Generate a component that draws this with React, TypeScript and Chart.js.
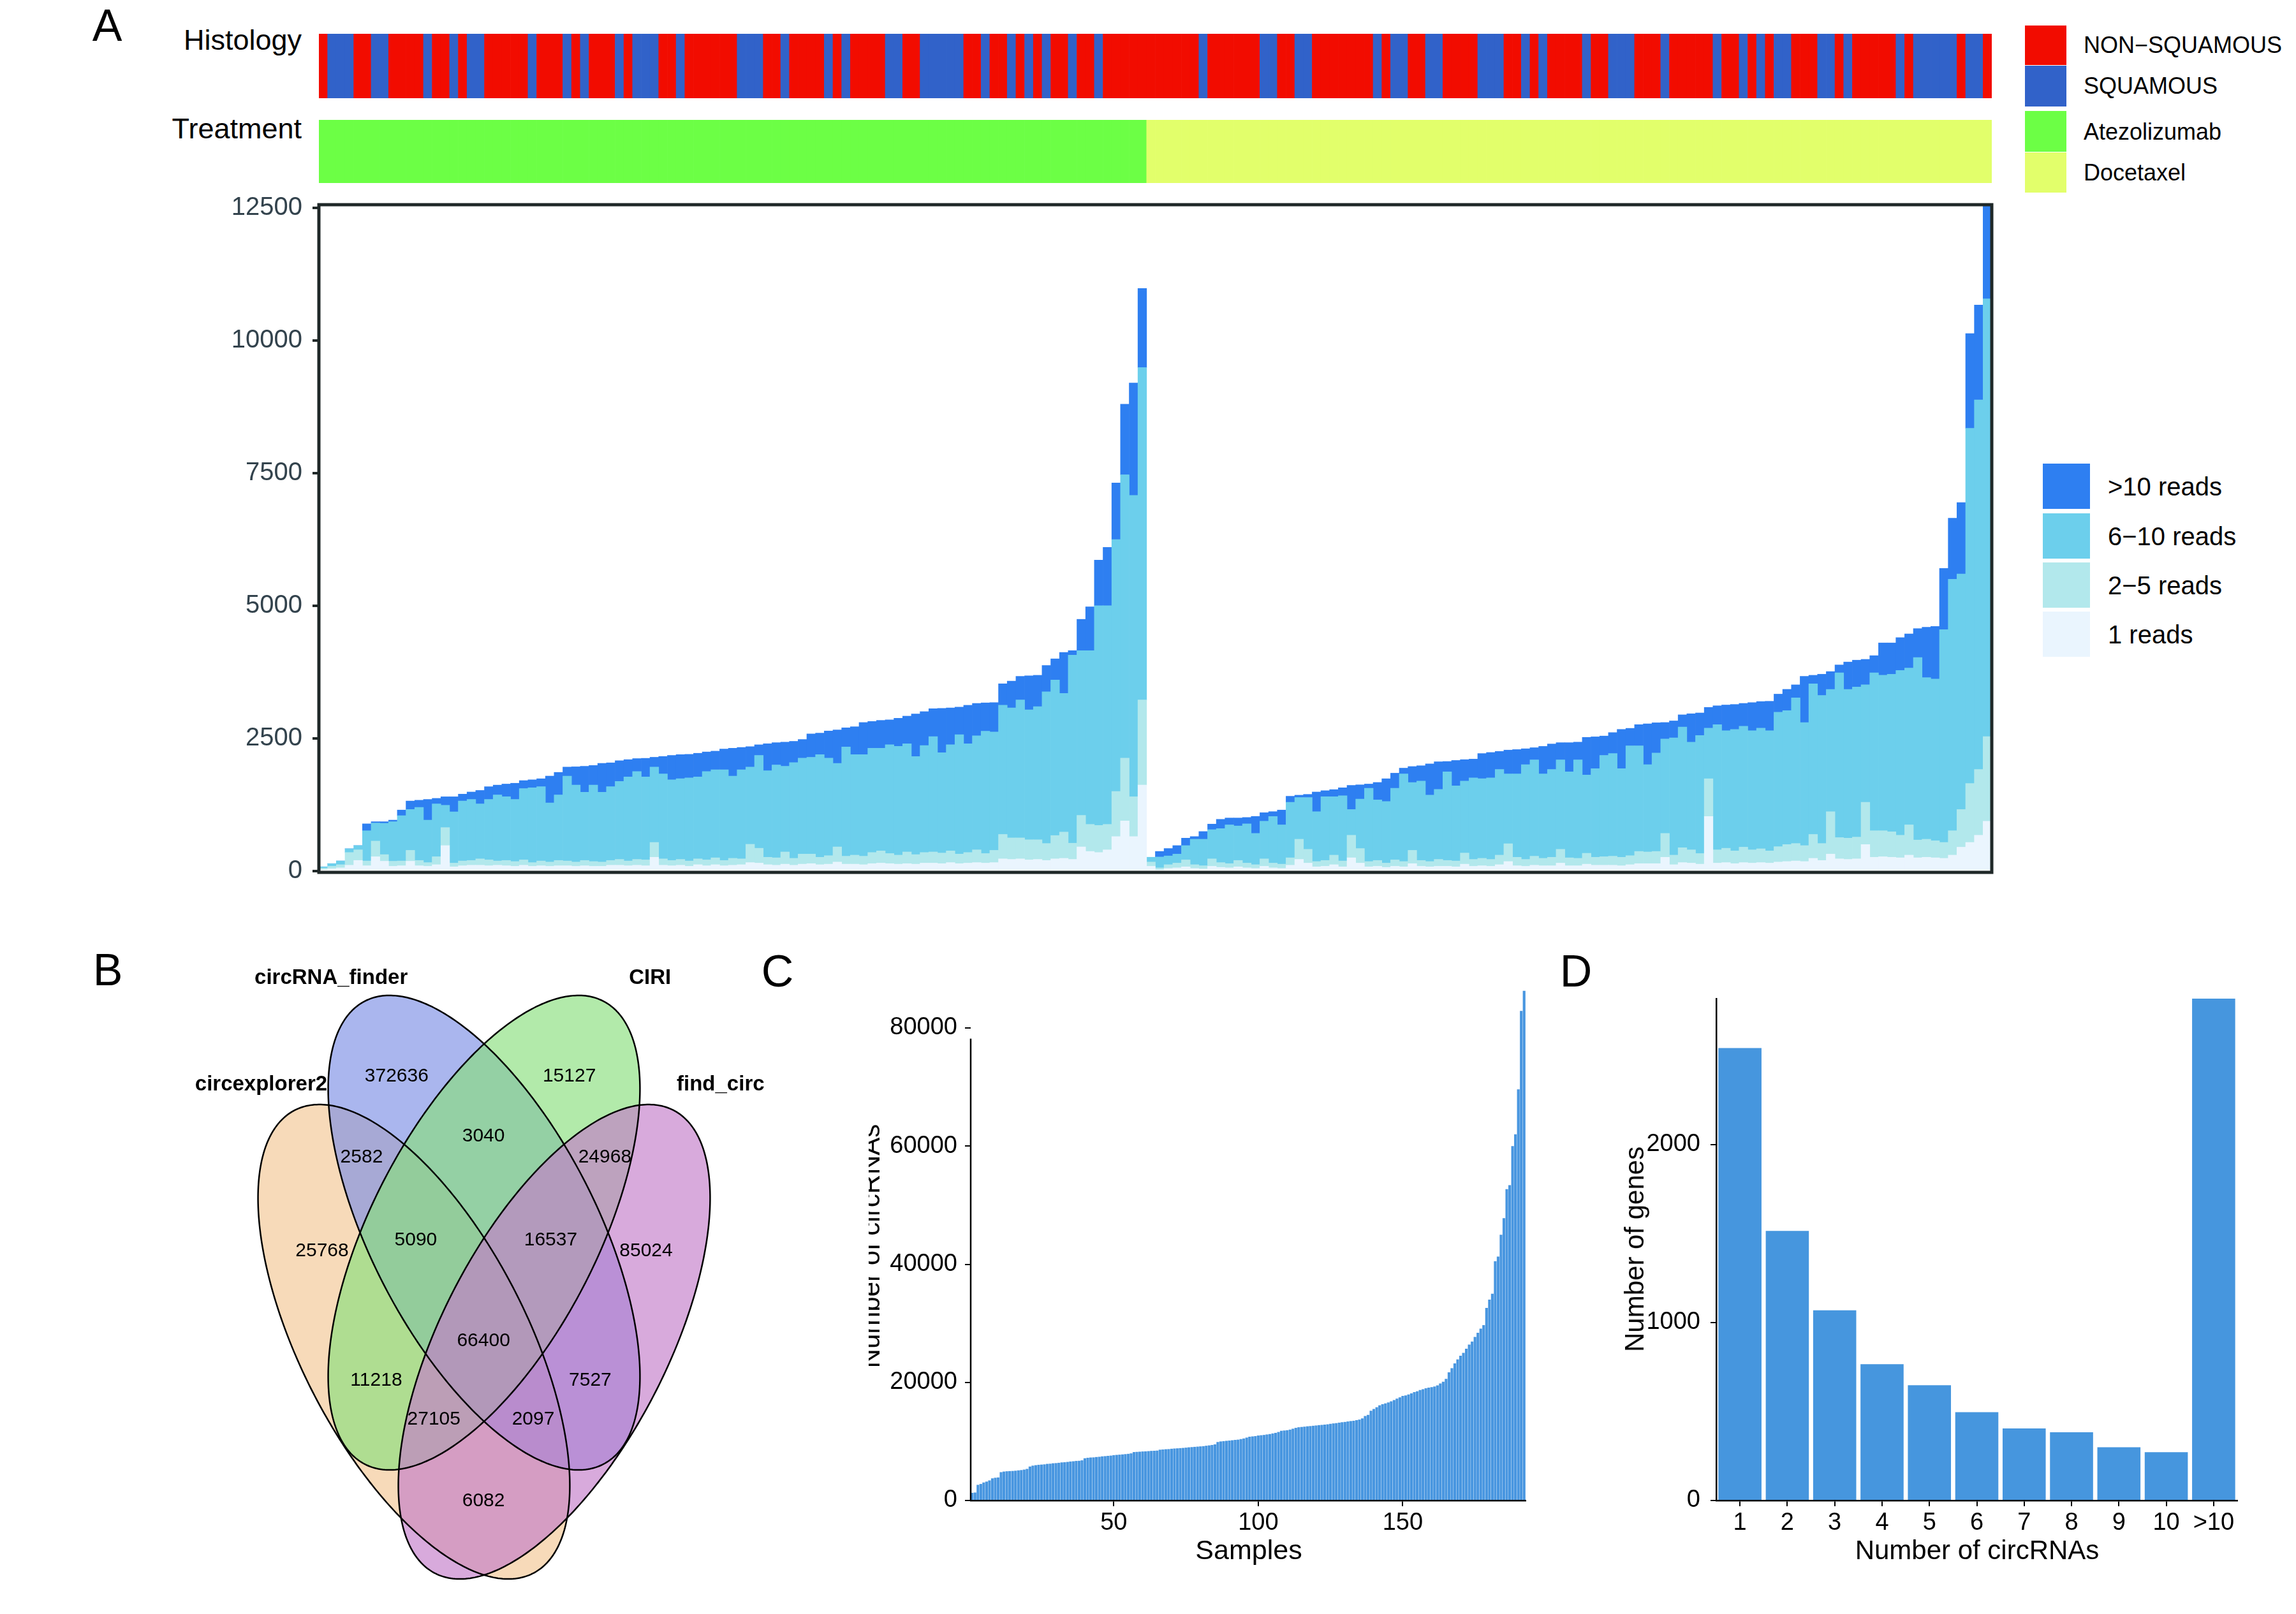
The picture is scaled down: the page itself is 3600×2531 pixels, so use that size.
import React, { useEffect, useRef } from 'react';
import { Chart, registerables } from 'chart.js';

Chart.register(...registerables);

const FONT = '"Liberation Sans", Arial, Helvetica, sans-serif';
Chart.defaults.font.family = FONT;

// ---------------- Panel A data ----------------
const N_SAMPLES = 192;
const SAMPLES = Array.from({ length: N_SAMPLES }, (_, i) => `S${i + 1}`);

// N = NON−SQUAMOUS, S = SQUAMOUS (sample order as in the figure)
const HISTOLOGY_CODES = (
  'NSSSNNSSNN' + 'NNSNNSNSSN' + 'NNNNSNNNSN' + 'SNNNSNSSSN' + 'NSNNNNNNSS' +
  'SNNSNNNNSN' + 'SNNNNSSNNS' + 'SSSSNNSNNS' + 'NSNSNNSNNS' + 'NNNNNNNNNN' +
  'NSNNNNNNSS' + 'NNSSNNNNNN' + 'NSNSSNNSSN' + 'NNNSSSNNSN' + 'SNNNNSNNSS' +
  'SNNNSNNNNN' + 'SNNSNSNSSN' + 'NNSSNSNNNN' + 'NSNSSSSSNS' + 'SN'
).split('');
const HISTOLOGY = HISTOLOGY_CODES.map((c) => (c === 'N' ? 'NON−SQUAMOUS' : 'SQUAMOUS'));
const ATEZOLIZUMAB_COUNT = 95;
const TREATMENT = SAMPLES.map((_, i) => (i < ATEZOLIZUMAB_COUNT ? 'Atezolizumab' : 'Docetaxel'));

const HIST_COLORS: Record<string, string> = { 'NON−SQUAMOUS': '#F20C00', SQUAMOUS: '#3162C9' };
const TREAT_COLORS: Record<string, string> = { Atezolizumab: '#6CFF45', Docetaxel: '#E2FF6B' };

const READ_SERIES = ['1 reads', '2−5 reads', '6−10 reads', '>10 reads'];
const READ_COLORS = ['#EAF5FE', '#B2E8EC', '#6CCFEC', '#2E7FF1'];

const READS_1 = [
  30, 45, 60, 110, 200, 100, 270, 185, 90, 100,
  185, 100, 90, 120, 480, 80, 100, 110, 110, 100,
  110, 100, 90, 110, 90, 100, 90, 100, 100, 90,
  100, 90, 90, 110, 110, 100, 110, 100, 260, 110,
  100, 110, 90, 120, 100, 120, 100, 110, 120, 160,
  150, 120, 110, 130, 110, 130, 140, 120, 130, 170,
  130, 130, 120, 140, 150, 140, 130, 140, 130, 150,
  150, 140, 160, 140, 150, 160, 150, 160, 230, 220,
  230, 210, 220, 200, 230, 240, 220, 455, 370, 350,
  400, 650, 945, 650, 1620,
  90, 25, 50, 60, 80,
  50, 40, 90, 70, 60, 80, 60, 50, 90, 60,
  50, 110, 220, 150, 80, 90, 120, 80, 250, 150,
  80, 90, 70, 90, 80, 140, 90, 80, 90, 90,
  80, 130, 90, 100, 90, 120, 180, 100, 90, 110,
  100, 100, 150, 100, 100, 130, 110, 110, 110, 100,
  120, 140, 140, 140, 260, 120, 160, 150, 130, 1030,
  150, 160, 140, 160, 150, 160, 150, 170, 180, 190,
  180, 240, 200, 320, 230, 220, 230, 500, 260, 270,
  260, 250, 300, 250, 260, 250, 240, 300, 450, 540,
  675, 940,
];

const READS_2_5 = [
  25, 45, 60, 240, 200, 90, 295, 125, 95, 90,
  205, 100, 70, 150, 340, 70, 90, 90, 120, 110,
  80, 100, 90, 100, 70, 90, 80, 100, 90, 80,
  100, 90, 80, 90, 110, 90, 110, 110, 280, 120,
  100, 110, 100, 110, 110, 130, 100, 130, 110, 345,
  280, 140, 140, 230, 130, 190, 180, 140, 160, 285,
  150, 170, 160, 210, 230, 190, 170, 220, 180, 200,
  210, 200, 220, 180, 200, 240, 180, 230, 460, 405,
  395, 380, 370, 320, 440, 495, 305, 595, 510, 510,
  480, 850, 1185, 750, 1605,
  80, 35, 70, 90, 130,
  70, 60, 140, 90, 80, 120, 90, 70, 140, 90,
  80, 140, 380, 260, 100, 110, 180, 110, 425, 275,
  100, 110, 80, 120, 100, 250, 110, 100, 130, 110,
  110, 210, 130, 140, 130, 180, 335, 160, 130, 170,
  140, 160, 260, 150, 140, 205, 150, 160, 170, 160,
  170, 230, 220, 230, 450, 180, 280, 250, 200, 710,
  250, 270, 240, 290, 250, 260, 230, 290, 320, 330,
  300, 450, 320, 800, 400, 400, 410, 795, 500, 490,
  480, 425, 570, 335, 340, 320, 300, 460, 710, 1110,
  1240, 1595,
];

const READS_6_10 = [
  25, 50, 70, 70, 80, 570, 340, 590, 745, 855,
  770, 1000, 800, 995, 420, 965, 1130, 1150, 1035, 1140,
  1245, 1200, 1170, 1345, 1410, 1400, 1115, 1235, 1600, 1450,
  1285, 1440, 1315, 1390, 1470, 1585, 1655, 1565, 1420, 1600,
  1520, 1520, 1565, 1545, 1665, 1660, 1710, 1550, 1680, 1455,
  1750, 1630, 1750, 1615, 1805, 1810, 1825, 1935, 1840, 1575,
  2060, 1895, 1915, 1965, 1935, 2050, 2050, 2040, 1850, 2015,
  2175, 1890, 2000, 2250, 2050, 2150, 2305, 2230, 2435, 2450,
  2600, 2450, 2510, 2860, 2930, 2615, 3545, 3105, 3275, 4140,
  4120, 4750, 5340, 5680, 6265,
  90, 205, 165, 170, 270,
  480, 500, 550, 640, 730, 650, 740, 590, 710, 880,
  740, 1045, 785, 975, 940, 1200, 1100, 1230, 485, 930,
  1380, 1140, 1160, 1350, 1650, 1280, 1495, 1250, 1320, 1670,
  1415, 1355, 1535, 1500, 1535, 1615, 1315, 1570, 1785, 1815,
  1590, 1655, 1685, 1620, 1855, 1475, 1670, 1910, 1935, 1670,
  2070, 1990, 1645, 1855, 1780, 2210, 2275, 2030, 2225, 955,
  2360, 2215, 2290, 2280, 2245, 2275, 2265, 2535, 2525, 2745,
  2320, 2840, 2790, 2305, 3105, 2805, 2830, 2215, 2975, 2930,
  2970, 3105, 2955, 3440, 3045, 3050, 4010, 4740, 4440, 6695,
  6965, 8250,
];

const READS_GT10 = [
  0, 0, 0, 0, 0, 130, 25, 30, 30, 105,
  160, 135, 390, 105, 160, 285, 130, 140, 255, 240,
  185, 240, 305, 150, 150, 150, 505, 425, 170, 345,
  490, 370, 545, 450, 390, 325, 245, 350, 185, 330,
  460, 455, 445, 445, 370, 350, 390, 525, 420, 385,
  200, 510, 420, 455, 400, 350, 440, 405, 510, 630,
  360, 525, 605, 505, 525, 470, 530, 520, 800, 640,
  525, 835, 695, 520, 725, 610, 535, 555, 405, 505,
  445, 640, 590, 495, 400, 770, 85, 590, 825, 860,
  1100, 1065, 1330, 2120, 1490,
  0, 105, 140, 160, 140,
  50, 145, 105, 175, 130, 150, 120, 320, 160, 90,
  280, 115, 45, 60, 370, 115, 135, 150, 455, 270,
  80, 330, 430, 285, 110, 300, 290, 590, 520, 195,
  480, 405, 355, 475, 480, 340, 450, 460, 300, 230,
  520, 480, 325, 550, 335, 710, 600, 365, 395, 740,
  330, 400, 770, 570, 310, 320, 230, 535, 425, 390,
  355, 485, 470, 430, 530, 500, 555, 340, 400, 245,
  870, 160, 400, 335, 150, 515, 505, 480, 325, 610,
  590, 620, 645, 545, 950, 990, 1155, 1150, 1345, 1785,
  1790, 1775,
];

const A_Y_TICKS = [0, 2500, 5000, 7500, 10000, 12500];

// ---------------- Panel B data (Venn) ----------------
const VENN_SETS = ['circexplorer2', 'circRNA_finder', 'CIRI', 'find_circ'];
// region membership: A=circexplorer2, B=circRNA_finder, C=CIRI, D=find_circ
const VENN_REGIONS = ['B', 'C', 'BC', 'AB', 'CD', 'A', 'ABC', 'BCD', 'D', 'ABCD', 'AC', 'BD', 'ACD', 'ABD', 'AD'];
const VENN_COUNTS = [372636, 15127, 3040, 2582, 24968, 25768, 5090, 16537, 85024, 66400, 11218, 7527, 27105, 2097, 6082];

// ---------------- Panel C data ----------------
const C_VALUES = [
  1300, 1350, 2650, 2800, 3050, 3200, 3400, 3750, 3850, 3900,
  4800, 4900, 4950, 4980, 5000, 5040, 5100, 5150, 5230, 5350,
  5750, 5900, 5980, 6040, 6080, 6120, 6200, 6230, 6300, 6330,
  6380, 6450, 6480, 6530, 6600, 6640, 6700, 6720, 6800, 7150,
  7230, 7280, 7300, 7360, 7400, 7470, 7510, 7560, 7600, 7680,
  7720, 7760, 7800, 7850, 7900, 7980, 8200, 8230, 8260, 8300,
  8320, 8360, 8400, 8420, 8450, 8600, 8640, 8680, 8700, 8760,
  8800, 8830, 8870, 8900, 8950, 9000, 9040, 9080, 9120, 9160,
  9200, 9270, 9330, 9400, 9500, 9900, 10000, 10050, 10100, 10150,
  10200, 10260, 10300, 10400, 10500, 10650, 10800, 10850, 10900, 11000,
  11050, 11100, 11180, 11250, 11350, 11450, 11600, 11800, 11850, 11900,
  12000, 12150, 12300, 12400, 12450, 12500, 12560, 12600, 12650, 12700,
  12760, 12800, 12850, 12900, 12980, 13050, 13100, 13180, 13250, 13300,
  13380, 13450, 13500, 13600, 13700, 13900, 14300, 14500, 15200, 15500,
  15800, 16100, 16300, 16450, 16600, 16800, 17000, 17250, 17450, 17700,
  17800, 17950, 18150, 18350, 18500, 18700, 18850, 19000, 19100, 19200,
  19300, 19500, 19800, 20100, 20600, 21700, 22400, 23200, 23900, 24500,
  25000, 25700, 26400, 26900, 27700, 28400, 29100, 29700, 32600, 34000,
  35000, 40500, 41300, 45000, 47800, 52700, 53400, 60000, 62000, 69600,
  82900, 86300,
];
const C_LABELS = C_VALUES.map((_, i) => String(i + 1));
const C_X_TICKS = ['50', '100', '150'];
const C_Y_TICKS = [0, 20000, 40000, 60000, 80000];
const C_AXIS_END = 78200;

// ---------------- Panel D data ----------------
const D_CATEGORIES = ['1', '2', '3', '4', '5', '6', '7', '8', '9', '10', '>10'];
const D_VALUES = [2541, 1514, 1068, 766, 647, 496, 405, 383, 299, 271, 2819];
const D_Y_TICKS = [0, 1000, 2000];

// ---------------- helpers ----------------
const baseOptions = (extra: any) => ({
  responsive: false,
  animation: false,
  devicePixelRatio: 1,
  events: [],
  plugins: { legend: { display: false }, tooltip: { enabled: false } },
  ...extra,
});

function ChartCanvas({ x, y, w, h, config }: { x: number; y: number; w: number; h: number; config: () => any }) {
  const ref = useRef<HTMLCanvasElement | null>(null);
  useEffect(() => {
    const chart = new Chart(ref.current as HTMLCanvasElement, config());
    return () => chart.destroy();
  }, []);
  return (
    <div style={{ position: 'absolute', left: x, top: y, width: w, height: h }}>
      <canvas ref={ref} width={w} height={h} style={{ width: w, height: h, display: 'block' }} />
    </div>
  );
}

function Txt({ x, y, size, children, anchor = 'center', weight = 400, rotate = 0, color = '#000' }: any) {
  const tx = anchor === 'start' ? '0%' : anchor === 'end' ? '-100%' : '-50%';
  return (
    <div
      style={{
        position: 'absolute', left: x, top: y, fontSize: size, lineHeight: 1, whiteSpace: 'nowrap',
        fontWeight: weight, color, fontFamily: FONT,
        transform: `translate(${tx}, -50%)` + (rotate ? ` rotate(${rotate}deg)` : ''),
      }}
    >
      {children}
    </div>
  );
}

function Box({ x, y, w, h, color }: any) {
  return <div style={{ position: 'absolute', left: x, top: y, width: w, height: h, background: color }} />;
}

// ---------------- chart configs ----------------
function stripConfig(colors: string[]) {
  return {
    type: 'bar',
    data: {
      labels: SAMPLES,
      datasets: [{ data: SAMPLES.map(() => 1), backgroundColor: colors, borderWidth: 0, barPercentage: 1, categoryPercentage: 1 }],
    },
    options: baseOptions({
      layout: { padding: 0 },
      scales: { x: { display: false }, y: { display: false, min: 0, max: 1 } },
    }),
  };
}

const framePlugin = {
  id: 'frame',
  afterDatasetsDraw(chart: any) {
    const { ctx, chartArea: a } = chart;
    ctx.save();
    ctx.lineWidth = 5;
    ctx.strokeStyle = '#1F2828';
    ctx.strokeRect(a.left, a.top, a.right - a.left, a.bottom - a.top);
    ctx.restore();
  },
};

function readsConfig() {
  const series = [READS_1, READS_2_5, READS_6_10, READS_GT10];
  return {
    type: 'bar',
    data: {
      labels: SAMPLES,
      datasets: series.map((d, i) => ({
        label: READ_SERIES[i], data: d, backgroundColor: READ_COLORS[i], borderWidth: 0,
        barPercentage: 1, categoryPercentage: 1,
      })),
    },
    options: baseOptions({
      layout: { padding: { left: 0, right: 7, top: 101, bottom: 82 } },
      scales: {
        x: { stacked: true, display: false },
        y: {
          stacked: true, min: -25, max: 12560,
          afterFit: (s: any) => { s.width = 200; },
          afterBuildTicks: (s: any) => { s.ticks = A_Y_TICKS.map((v) => ({ value: v })); },
          ticks: { callback: (v: any) => String(v), color: '#33434D', font: { size: 40 }, padding: 16 },
          grid: { drawOnChartArea: false, tickLength: 10, color: '#1F2828', lineWidth: 4 },
          border: { display: false },
        },
      },
    }),
    plugins: [framePlugin],
  };
}

// Venn geometry (unit coordinates, y up) and page mapping
const VENN_ELLIPSES = [
  { cx: 0.3757, cy: 0.443, a: 0.35, b: 0.1734, rot: -45 },
  { cx: 0.5, cy: 0.57, a: 0.35, b: 0.1734, rot: -45 },
  { cx: 0.5, cy: 0.57, a: 0.35, b: 0.1734, rot: 45 },
  { cx: 0.6243, cy: 0.443, a: 0.35, b: 0.1734, rot: 45 },
];
const VENN_FILLS = ['rgba(243,198,147,0.65)', 'rgba(124,143,229,0.65)', 'rgba(137,223,124,0.65)', 'rgba(195,124,201,0.65)'];
const VENN_COUNT_POS = [
  [0.345, 0.752], [0.651, 0.752], [0.499, 0.682], [0.283, 0.658], [0.714, 0.658],
  [0.213, 0.549], [0.379, 0.561], [0.618, 0.561], [0.787, 0.549], [0.499, 0.444],
  [0.309, 0.398], [0.688, 0.398], [0.411, 0.353], [0.587, 0.353], [0.499, 0.258],
];
const VENN_SET_POS = [[0.105, 0.742], [0.229, 0.866], [0.794, 0.866], [0.919, 0.742]];
const VENN_BOX = { x: 250, y: 1450, w: 1000, h: 1081 };
const VENN_MAP = { x0: 316.5, sx: 885, y0: 2700.8, sy: 1347 };

const vennPlugin = {
  id: 'venn',
  afterDraw(chart: any) {
    const { ctx } = chart;
    const xs = chart.scales.x;
    const ys = chart.scales.y;
    const px = (u: number) => xs.getPixelForValue(u);
    const py = (v: number) => ys.getPixelForValue(v);
    const path = (e: any) => {
      const r = (e.rot * Math.PI) / 180;
      ctx.beginPath();
      for (let i = 0; i <= 360; i++) {
        const t = (i / 360) * Math.PI * 2;
        const ux = e.cx + e.a * Math.cos(t) * Math.cos(r) - e.b * Math.sin(t) * Math.sin(r);
        const uy = e.cy + e.a * Math.cos(t) * Math.sin(r) + e.b * Math.sin(t) * Math.cos(r);
        if (i === 0) ctx.moveTo(px(ux), py(uy));
        else ctx.lineTo(px(ux), py(uy));
      }
      ctx.closePath();
    };
    ctx.save();
    VENN_ELLIPSES.forEach((e, i) => {
      path(e);
      ctx.fillStyle = VENN_FILLS[i];
      ctx.fill();
    });
    VENN_ELLIPSES.forEach((e) => {
      path(e);
      ctx.lineWidth = 2.5;
      ctx.strokeStyle = '#000';
      ctx.stroke();
    });
    ctx.fillStyle = '#000';
    ctx.textAlign = 'center';
    ctx.textBaseline = 'middle';
    ctx.font = `30px ${FONT}`;
    VENN_COUNTS.forEach((n, i) => {
      ctx.fillText(String(n), px(VENN_COUNT_POS[i][0]), py(VENN_COUNT_POS[i][1]));
    });
    ctx.font = `bold 33px ${FONT}`;
    VENN_SETS.forEach((s, i) => {
      ctx.fillText(s, px(VENN_SET_POS[i][0]), py(VENN_SET_POS[i][1]));
    });
    ctx.restore();
  },
};

function vennConfig() {
  const m = VENN_MAP;
  return {
    type: 'scatter',
    data: { datasets: [{ data: [] }] },
    options: baseOptions({
      layout: { padding: 0 },
      scales: {
        x: { type: 'linear', display: false, min: (VENN_BOX.x - m.x0) / m.sx, max: (VENN_BOX.x + VENN_BOX.w - m.x0) / m.sx },
        y: { type: 'linear', display: false, min: (m.y0 - (VENN_BOX.y + VENN_BOX.h)) / m.sy, max: (m.y0 - VENN_BOX.y) / m.sy },
      },
    }),
    plugins: [vennPlugin],
  };
}

const cAxisPlugin = {
  id: 'cAxis',
  afterDraw(chart: any) {
    const { ctx, chartArea } = chart;
    const y = chart.scales.y;
    ctx.save();
    ctx.strokeStyle = '#000';
    ctx.lineWidth = 2.5;
    ctx.beginPath();
    ctx.moveTo(chartArea.left, y.getPixelForValue(0));
    ctx.lineTo(chartArea.left, y.getPixelForValue(C_AXIS_END));
    ctx.stroke();
    ctx.restore();
  },
};

function cConfig() {
  return {
    type: 'bar',
    data: {
      labels: C_LABELS,
      datasets: [{ data: C_VALUES, backgroundColor: '#4896E0', borderWidth: 0, barPercentage: 0.92, categoryPercentage: 1, clip: false }],
    },
    options: baseOptions({
      layout: { padding: { left: 0, right: 30, top: 112, bottom: 0 } },
      scales: {
        x: {
          afterFit: (s: any) => { s.height = 147; },
          afterBuildTicks: (s: any) => { s.ticks = s.ticks.filter((t: any) => C_X_TICKS.includes(C_LABELS[t.value])); },
          ticks: { autoSkip: false, maxRotation: 0, color: '#000', font: { size: 38 }, padding: 4 },
          grid: { drawOnChartArea: false, offset: false, tickLength: 9, color: '#000', lineWidth: 2 },
          border: { display: true, color: '#000', width: 2.5 },
        },
        y: {
          min: 0, max: 80000,
          afterFit: (s: any) => { s.width = 160; },
          afterBuildTicks: (s: any) => { s.ticks = C_Y_TICKS.map((v) => ({ value: v })); },
          ticks: { callback: (v: any) => String(v), color: '#000', font: { size: 38 }, padding: 12 },
          grid: { drawOnChartArea: false, tickLength: 9, color: '#000', lineWidth: 2 },
          border: { display: false },
        },
      },
    }),
    plugins: [cAxisPlugin],
  };
}

function dConfig() {
  return {
    type: 'bar',
    data: {
      labels: D_CATEGORIES,
      datasets: [{ data: D_VALUES, backgroundColor: '#4696DE', borderWidth: 0, barPercentage: 0.91, categoryPercentage: 1 }],
    },
    options: baseOptions({
      layout: { padding: { left: 0, right: 12, top: 66, bottom: 0 } },
      scales: {
        x: {
          afterFit: (s: any) => { s.height = 147; },
          ticks: { autoSkip: false, maxRotation: 0, color: '#000', font: { size: 38 }, padding: 4 },
          grid: { drawOnChartArea: false, offset: false, tickLength: 9, color: '#000', lineWidth: 2 },
          border: { display: true, color: '#000', width: 2.5 },
        },
        y: {
          min: 0, max: Math.max(...D_VALUES),
          afterFit: (s: any) => { s.width = 131; },
          afterBuildTicks: (s: any) => { s.ticks = D_Y_TICKS.map((v) => ({ value: v })); },
          ticks: { callback: (v: any) => String(v), color: '#000', font: { size: 38 }, padding: 16 },
          grid: { drawOnChartArea: false, tickLength: 9, color: '#000', lineWidth: 2 },
          border: { display: true, color: '#000', width: 2.5 },
        },
      },
    }),
  };
}

// ---------------- App ----------------
export default function App() {
  const histColors = HISTOLOGY.map((h) => HIST_COLORS[h]);
  const treatColors = TREATMENT.map((t) => TREAT_COLORS[t]);
  const readLegend = [3, 2, 1, 0];
  const readLegendY = [727, 805, 882, 959];
  const readLegendTextY = [763, 841, 918, 995];
  const histLegend = [
    { label: 'NON−SQUAMOUS', color: HIST_COLORS['NON−SQUAMOUS'], y: 40, h: 62, ty: 71 },
    { label: 'SQUAMOUS', color: HIST_COLORS.SQUAMOUS, y: 103, h: 64, ty: 135 },
    { label: 'Atezolizumab', color: TREAT_COLORS.Atezolizumab, y: 174, h: 64, ty: 207 },
    { label: 'Docetaxel', color: TREAT_COLORS.Docetaxel, y: 239, h: 63, ty: 271 },
  ];
  return (
    <div style={{ position: 'absolute', left: 0, top: 0, width: 3600, height: 2531, background: '#fff', overflow: 'hidden', fontFamily: FONT }}>
      {/* Panel A */}
      <Txt x={168} y={40} size={70}>A</Txt>
      <Txt x={473} y={62} size={45} anchor="end">Histology</Txt>
      <Txt x={473} y={201} size={45} anchor="end">Treatment</Txt>
      <ChartCanvas x={500} y={53} w={2623} h={101} config={() => stripConfig(histColors)} />
      <ChartCanvas x={500} y={188} w={2623} h={99} config={() => stripConfig(treatColors)} />
      <ChartCanvas x={300} y={220} w={2830} h={1230} config={readsConfig} />
      {histLegend.map((l) => (
        <React.Fragment key={l.label}>
          <Box x={3175} y={l.y} w={65} h={l.h} color={l.color} />
          <Txt x={3267} y={l.ty} size={36} anchor="start">{l.label}</Txt>
        </React.Fragment>
      ))}
      {readLegend.map((si, k) => (
        <React.Fragment key={READ_SERIES[si]}>
          <Box x={3203} y={readLegendY[k]} w={74} h={71} color={READ_COLORS[si]} />
          <Txt x={3305} y={readLegendTextY[k]} size={40} anchor="start">{READ_SERIES[si]}</Txt>
        </React.Fragment>
      ))}

      {/* Panel B */}
      <Txt x={169} y={1521} size={70}>B</Txt>
      <ChartCanvas x={VENN_BOX.x} y={VENN_BOX.y} w={VENN_BOX.w} h={VENN_BOX.h} config={vennConfig} />

      {/* Panel C */}
      <Txt x={1219} y={1523} size={70}>C</Txt>
      <ChartCanvas x={1362} y={1500} w={1060} h={1000} config={cConfig} />
      <div style={{ position: 'absolute', left: 1362, top: 1700, width: 40, height: 520, overflow: 'hidden' }}>
        <div
          style={{
            position: 'absolute', left: 3, top: 254, fontSize: 42, lineHeight: 1, whiteSpace: 'nowrap', fontFamily: FONT,
            transform: 'translate(-50%, -50%) rotate(-90deg)',
          }}
        >
          Number of circRNAs
        </div>
      </div>
      <Txt x={1958} y={2430} size={43}>Samples</Txt>

      {/* Panel D */}
      <Txt x={2471} y={1523} size={70}>D</Txt>
      <ChartCanvas x={2560} y={1500} w={960} h={1000} config={dConfig} />
      <Txt x={2563} y={1959} size={42} rotate={-90}>Number of genes</Txt>
      <Txt x={3100} y={2431} size={42}>Number of circRNAs</Txt>
    </div>
  );
}
